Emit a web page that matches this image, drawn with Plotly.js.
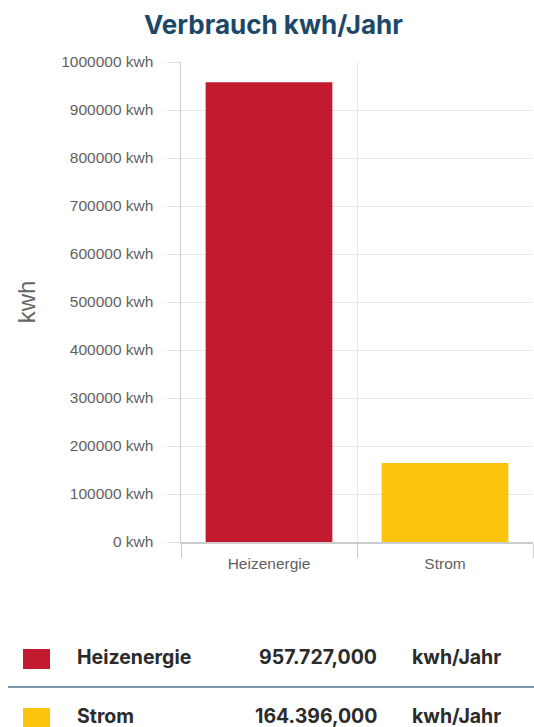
<!DOCTYPE html>
<html>
<head>
<meta charset="utf-8">
<script src="https://cdn.plot.ly/plotly-3.0.1.min.js"></script>
<style>html,body{margin:0;padding:0;background:#fff;}#chart{width:534px;height:727px;}</style>
</head>
<body>
<div id="chart"></div>
<script>
// ---- data ----
const categories = ['Heizenergie', 'Strom'];
const values = [957727, 164396];
const colors = ['#c41a2f', '#fbc30c'];
const yTickVals = [0, 100000, 200000, 300000, 400000, 500000, 600000, 700000, 800000, 900000, 1000000];
const unitSuffix = ' kwh';
const tableUnit = 'kwh/Jahr';
const chartTitle = 'Verbrauch kwh/Jahr';
const yTitle = 'kwh';

// ---- layout helpers ----
const W = 534, H = 727;
const M = {l: 181, r: 1, t: 62, b: 185, pad: 0};
const pw = W - M.l - M.r, ph = H - M.t - M.b;
const X = px => (px - M.l) / pw;
const Y = py => (H - M.b - py) / ph;

function deFmt(v) {
  const parts = v.toFixed(3).split('.');
  return parts[0].replace(/\B(?=(\d{3})+(?!\d))/g, '.') + ',' + parts[1];
}

const tickFont = {family: 'Arial, "Liberation Sans", sans-serif', size: 15.5, color: '#5f5f5f'};
const tableFont = {family: 'Inter, sans-serif', size: 19.5, color: '#2b2b2b', weight: 'bold'};

const shapes = [];
const annotations = [];
const rowCenters = [657, 716];
categories.forEach((c, i) => {
  const yc = rowCenters[i];
  shapes.push({type: 'rect', xref: 'paper', yref: 'paper', x0: X(23), x1: X(50), y0: Y(yc - 8), y1: Y(yc + 12),
    fillcolor: colors[i], line: {width: 0}, layer: 'above'});
  annotations.push({xref: 'paper', yref: 'paper', x: X(75), y: Y(yc), xanchor: 'left', yanchor: 'middle',
    text: c, showarrow: false, font: tableFont});
  annotations.push({xref: 'paper', yref: 'paper', x: X(379), y: Y(yc), xanchor: 'right', yanchor: 'middle',
    text: deFmt(values[i]), showarrow: false, font: tableFont});
  annotations.push({xref: 'paper', yref: 'paper', x: X(410), y: Y(yc), xanchor: 'left', yanchor: 'middle',
    text: tableUnit, showarrow: false, font: tableFont});
});
shapes.push({type: 'line', xref: 'paper', yref: 'paper', x0: X(8), x1: X(534), y0: Y(687), y1: Y(687),
  line: {color: '#4f7593', width: 1.5}, layer: 'above'});

const trace = {
  type: 'bar',
  x: categories,
  y: values,
  width: 0.72,
  marker: {color: colors, line: {width: 0}},
  hoverinfo: 'x+y'
};

const layout = {
  width: W, height: H,
  margin: M,
  paper_bgcolor: '#fff', plot_bgcolor: '#fff',
  showlegend: false,
  title: {text: chartTitle, xref: 'container', x: 0.512, xanchor: 'center', yref: 'container', y: 1 - 25 / H, yanchor: 'middle',
    font: {family: 'Inter, sans-serif', size: 26, color: '#1b4869', weight: 'bold'}},
  xaxis: {
    type: 'category', range: [-0.5, 1.5], tickson: 'boundaries',
    ticks: 'outside', ticklen: 14, tickcolor: '#cccccc', tickwidth: 1,
    showgrid: true, gridcolor: '#e6e6e6', gridwidth: 1,
    showline: true, linecolor: '#cccccc', linewidth: 1.5,
    ticklabelstandoff: 7,
    tickfont: tickFont, fixedrange: true
  },
  yaxis: {
    range: [0, 1000000], tickvals: yTickVals, ticktext: yTickVals.map(v => v + unitSuffix),
    ticks: 'outside', ticklen: 13, tickcolor: '#e0e0e0', tickwidth: 1,
    showgrid: true, gridcolor: '#e6e6e6', gridwidth: 1,
    showline: true, linecolor: '#cccccc', linewidth: 1.5,
    zeroline: false, ticklabelstandoff: 10,
    tickfont: tickFont, fixedrange: true,
    title: {text: yTitle, standoff: 19, font: {family: 'Arial, "Liberation Sans", sans-serif', size: 24, color: '#666'}}
  },
  shapes: shapes,
  annotations: annotations
};

Plotly.newPlot('chart', [trace], layout, {displayModeBar: false, staticPlot: true});
</script>
</body>
</html>
